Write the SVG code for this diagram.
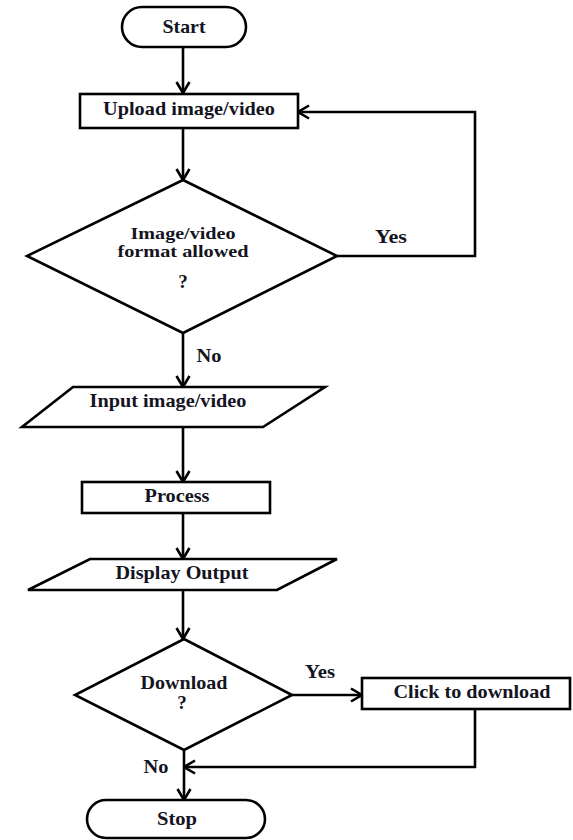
<svg xmlns="http://www.w3.org/2000/svg" width="573" height="840" viewBox="0 0 573 840">
  <style>
    .shape { fill: #fff; stroke: #000; stroke-width: 2.6; }
    .link { fill: none; stroke: #000; stroke-width: 2.6; }
    .lbl { font-family: "Liberation Serif", "Times New Roman", serif; font-weight: bold; font-size: 19px; fill: #141422; text-anchor: middle; }
    .tight { font-size: 16px; }
  </style>
  <defs>
    <marker id="arr" viewBox="0 0 14 16" refX="12.5" refY="8" markerWidth="14" markerHeight="16" orient="auto" markerUnits="userSpaceOnUse">
      <path d="M1.5,1.5 L12.5,8 L1.5,14.5" fill="none" stroke="#000" stroke-width="2.6"/>
    </marker>
  </defs>
  <rect width="573" height="840" fill="#fff"/>

  <!-- connectors -->
  <g id="connectors">
    <line class="link" x1="183" y1="47" x2="183" y2="93" marker-end="url(#arr)"/>
    <line class="link" x1="183" y1="128" x2="183" y2="180" marker-end="url(#arr)"/>
    <polyline class="link" points="337,256 475,256 475,112 298,112" marker-end="url(#arr)"/>
    <line class="link" x1="183" y1="333" x2="183" y2="387" marker-end="url(#arr)"/>
    <line class="link" x1="183" y1="427" x2="183" y2="482" marker-end="url(#arr)"/>
    <line class="link" x1="183" y1="513" x2="183" y2="559" marker-end="url(#arr)"/>
    <line class="link" x1="183" y1="590" x2="183" y2="639" marker-end="url(#arr)"/>
    <line class="link" x1="292" y1="695" x2="362" y2="695" marker-end="url(#arr)"/>
    <polyline class="link" points="475,709 475,767 184,767" marker-end="url(#arr)"/>
    <line class="link" x1="184" y1="750" x2="184" y2="800" marker-end="url(#arr)"/>
    <text class="lbl" x="391" y="243" textLength="32" lengthAdjust="spacingAndGlyphs">Yes</text>
    <text class="lbl" x="209" y="362" textLength="25" lengthAdjust="spacingAndGlyphs">No</text>
    <text class="lbl" x="320" y="678" textLength="30" lengthAdjust="spacingAndGlyphs">Yes</text>
    <text class="lbl" x="156" y="773" textLength="25" lengthAdjust="spacingAndGlyphs">No</text>
  </g>

  <g id="start">
    <rect class="shape" x="122" y="7" width="124" height="40" rx="20" ry="20"/>
    <text class="lbl" x="184" y="33" textLength="43" lengthAdjust="spacingAndGlyphs">Start</text>
  </g>

  <g id="upload">
    <rect class="shape" x="80" y="94" width="218" height="34"/>
    <text class="lbl" x="189" y="115" textLength="172" lengthAdjust="spacingAndGlyphs">Upload image/video</text>
  </g>

  <g id="format-check">
    <polygon class="shape" points="183,180 337,256 183,333 27,256"/>
    <text class="lbl tight" x="183" y="239" textLength="105" lengthAdjust="spacingAndGlyphs">Image/video</text>
    <text class="lbl tight" x="183" y="257" textLength="131" lengthAdjust="spacingAndGlyphs">format allowed</text>
    <text class="lbl" x="183" y="288">?</text>
  </g>

  <g id="input">
    <polygon class="shape" points="73,387 325,387 263,427 22,427"/>
    <text class="lbl" x="168" y="407" textLength="157" lengthAdjust="spacingAndGlyphs">Input image/video</text>
  </g>

  <g id="process">
    <rect class="shape" x="82" y="482" width="188" height="31"/>
    <text class="lbl" x="177" y="502" textLength="65" lengthAdjust="spacingAndGlyphs">Process</text>
  </g>

  <g id="display">
    <polygon class="shape" points="90,559 337,559 277,590 28,590"/>
    <text class="lbl" x="182" y="579" textLength="133" lengthAdjust="spacingAndGlyphs">Display Output</text>
  </g>

  <g id="download-check">
    <polygon class="shape" points="184,639 292,695 184,750 75,695"/>
    <text class="lbl" x="184" y="689" textLength="87" lengthAdjust="spacingAndGlyphs">Download</text>
    <text class="lbl" x="182" y="709">?</text>
  </g>

  <g id="click-download">
    <rect class="shape" x="362" y="678" width="208" height="31"/>
    <text class="lbl" x="472" y="698" textLength="157" lengthAdjust="spacingAndGlyphs">Click to download</text>
  </g>

  <g id="stop">
    <rect class="shape" x="87" y="800" width="178" height="38" rx="19" ry="19"/>
    <text class="lbl" x="177" y="825" textLength="40" lengthAdjust="spacingAndGlyphs">Stop</text>
  </g>
</svg>
